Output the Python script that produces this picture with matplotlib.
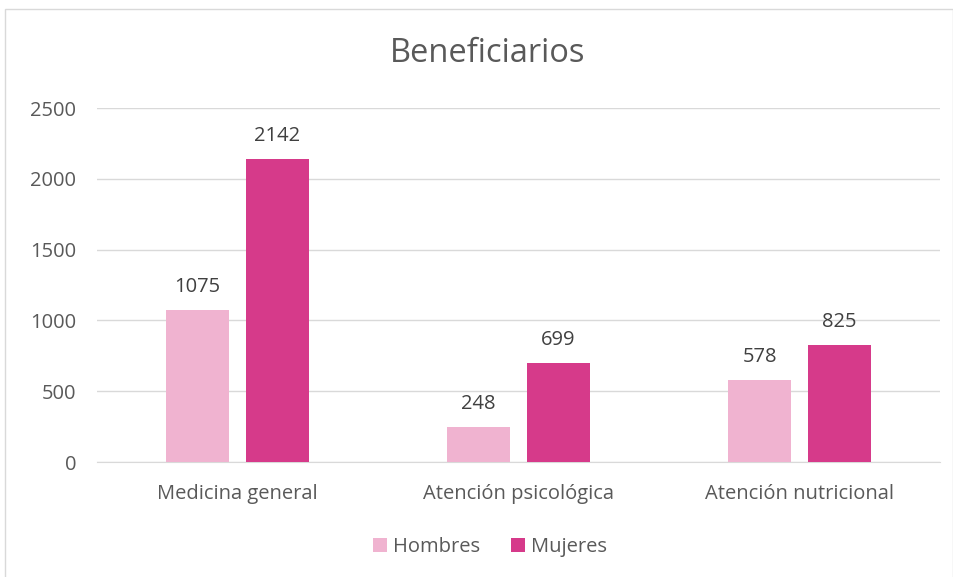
import matplotlib
matplotlib.use("Agg")
import matplotlib.pyplot as plt
import numpy as np
from matplotlib.patches import Rectangle

categories = ["Medicina general", "Atención psicológica", "Atención nutricional"]
hombres = [1075, 248, 578]
mujeres = [2142, 699, 825]
series_names = ["Hombres", "Mujeres"]
yticks = [0, 500, 1000, 1500, 2000, 2500]

plt.rcParams['font.family'] = ['Open Sans', 'DejaVu Sans']
txt = '#595959'

fig = plt.figure(figsize=(9.54, 5.77), dpi=100)
fig.patches.append(Rectangle((5/954, -0.01), 948/954, 1.01 - 9/577, transform=fig.transFigure,
                             fill=False, edgecolor='#D9D9D9', linewidth=1))
ax = fig.add_axes([97/954, 115/577, 843/954, 354/577])

x = np.arange(len(categories))
w = 0.224
off = 0.142
b1 = ax.bar(x - off, hombres, w, color='#F0B3D0', label=series_names[0], zorder=3)
b2 = ax.bar(x + off, mujeres, w, color='#D63A8A', label=series_names[1], zorder=3)
for bars in (b1, b2):
    for r in bars:
        ax.text(r.get_x() + r.get_width()/2, r.get_height() + 90, f"{int(r.get_height())}",
                ha='center', va='bottom', fontsize=14.5, color='#404040')

ax.set_xlim(-0.5, 2.5)
ax.set_ylim(0, 2500)
ax.set_yticks(yticks)
ax.set_yticklabels([str(v) for v in yticks])
ax.set_xticks(x)
ax.set_xticklabels(categories)
ax.tick_params(axis='both', length=0, labelsize=14.5, colors=txt)
ax.tick_params(axis='x', pad=16)
ax.tick_params(axis='y', pad=15)
ax.grid(axis='y', color='#D9D9D9', linewidth=1, zorder=0)
for s in ['top', 'right', 'left']:
    ax.spines[s].set_visible(False)
ax.spines['bottom'].set_color('#D9D9D9')

fig.text(488/954, 1 - 53/577, "Beneficiarios", ha='center', va='center', fontsize=23.5, color=txt)
fig.legend(handles=[b1, b2], labels=series_names, loc='center', bbox_to_anchor=(490/954, 1 - 547/577),
           ncol=2, frameon=False, fontsize=14.5, handlelength=0.7, handleheight=0.7,
           handletextpad=0.3, columnspacing=1.5, labelcolor=txt)

fig.savefig("out.png", dpi=100)
